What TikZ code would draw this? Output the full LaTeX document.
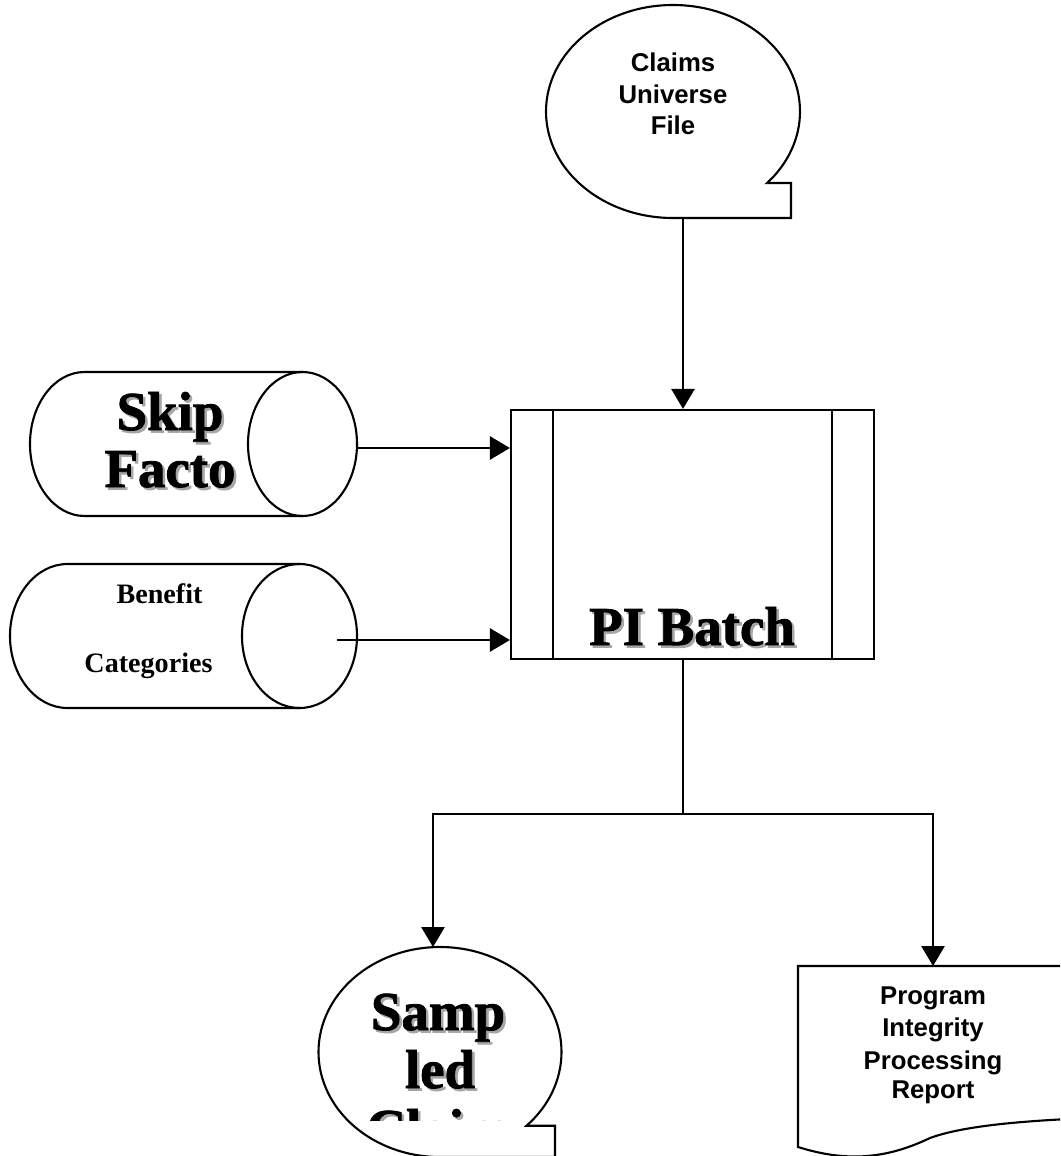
\documentclass[tikz,border=0pt]{standalone}
\usepackage{fontspec}
\setmainfont{Liberation Serif}
\newfontfamily\heavyserif[FakeBold=1.5]{Liberation Serif Bold}
\newfontfamily\flowsans{Liberation Sans}
\usetikzlibrary{arrows.meta}
\definecolor{shadowgray}{gray}{0.65}
\newcommand{\shadowed}[1]{\makebox[0pt][l]{\hspace*{1.8pt}\raisebox{-1.8pt}{\textcolor{shadowgray}{#1}}}#1}
\tikzset{
  shp/.style={line width=1.5pt},
  flow/.style={line width=1.5pt, -{Triangle[length=5mm,width=5.8mm]}},
  bigserif/.style={font=\heavyserif\fontsize{39}{43}\selectfont, inner sep=0pt, anchor=base},
  smallserif/.style={font=\fontsize{20}{24}\selectfont\bfseries, inner sep=0pt, anchor=base},
  sanstext/.style={font=\flowsans\fontsize{18.3}{22}\selectfont\bfseries, inner sep=0pt, anchor=base}
}
\begin{document}
\begin{tikzpicture}[x=0.025cm, y=-0.025cm] %1 unit = 1 px
  \useasboundingbox (0,0) rectangle (1060,1156);
  \clip (0,0) rectangle (1060,1156);
  \fill[white] (0,0) rectangle (1060,1156);
  % claims universe file
  \draw[shp] (673,218) arc[start angle=90, end angle=402.2, x radius=127, y radius=106.5] -| (791,218) -- cycle;
  \node[sanstext] (cuf1) at (673,72) {Claims};
  \node[sanstext] (cuf2) at (673,104) {Universe};
  \node[sanstext] (cuf3) at (673,135) {File};
  \coordinate (cufout) at (683,218);
  % skip factors
  \draw[shp] (302.5,372) -- (84.5,372) arc[start angle=270, end angle=90, x radius=54.5, y radius=72] -- (302.5,516);
  \draw[shp] (302.5,444) ellipse[x radius=54.5, y radius=72];
  \node[bigserif] (skip1) at (170,430) {\shadowed{Skip}};
  \node[bigserif] (skip2) at (170,487) {\shadowed{Facto}};
  \coordinate (skipout) at (357,448);
  % benefit categories
  \draw[shp] (299.5,564) -- (67.5,564) arc[start angle=270, end angle=90, x radius=57.5, y radius=72] -- (299.5,708);
  \draw[shp] (299.5,636) ellipse[x radius=57.5, y radius=72];
  \node[smallserif] (ben1) at (159.5,603) {Benefit};
  \node[smallserif] (ben2) at (148.5,672) {Categories};
  \coordinate (benout) at (337,640);
  % pi batch
  \node[shp, draw, minimum width=9.075cm, minimum height=6.225cm, inner sep=0pt] (pib) at (692.5,534.5) {};
  \draw[shp] ([xshift=1.075cm]pib.north west) -- ([xshift=1.075cm]pib.south west);
  \draw[shp] ([xshift=-1.075cm]pib.north east) -- ([xshift=-1.075cm]pib.south east);
  \node[bigserif] (pibtext) at (692,645) {\shadowed{PI Batch}};
  % sampled claims
  \draw[shp] (440,1157) arc[start angle=90, end angle=404.6, x radius=121.5, y radius=105] -| (555,1157) -- cycle;
  \begin{scope}
    \clip (300,900) rectangle (600,1120);
    \node[bigserif] (samp1) at (438,1030) {\shadowed{Samp}};
    \node[bigserif] (samp2) at (440,1088) {\shadowed{led}};
    \node[bigserif] (samp3) at (438,1147) {\shadowed{Claim}};
  \end{scope}
  \coordinate (samptop) at (433,947);
  % report
  \draw[shp] (1068,1119) -- (1068,966) -- (798,966) -- (798,1147) .. controls (840,1160) and (880,1162) .. (930,1138) .. controls (960,1127) and (1010,1122) .. (1068,1119);
  \node[sanstext] (rep1) at (933,1004) {Program};
  \node[sanstext] (rep2) at (933,1036) {Integrity};
  \node[sanstext] (rep3) at (933,1069) {Processing};
  \node[sanstext] (rep4) at (933,1098) {Report};
  \coordinate (reptop) at (933,966);
  % connectors
  \draw[flow] (cufout) -- (cufout |- pib.north);
  \draw[flow] (skipout) -- (skipout -| pib.west);
  \draw[flow] (benout) -- (benout -| pib.west);
  \coordinate (split) at (683,814);
  \draw[shp] (pib.south -| cufout) -- (split);
  \draw[flow] (split) -| (samptop);
  \draw[flow] (split) -| (reptop);
\end{tikzpicture}
\end{document}
